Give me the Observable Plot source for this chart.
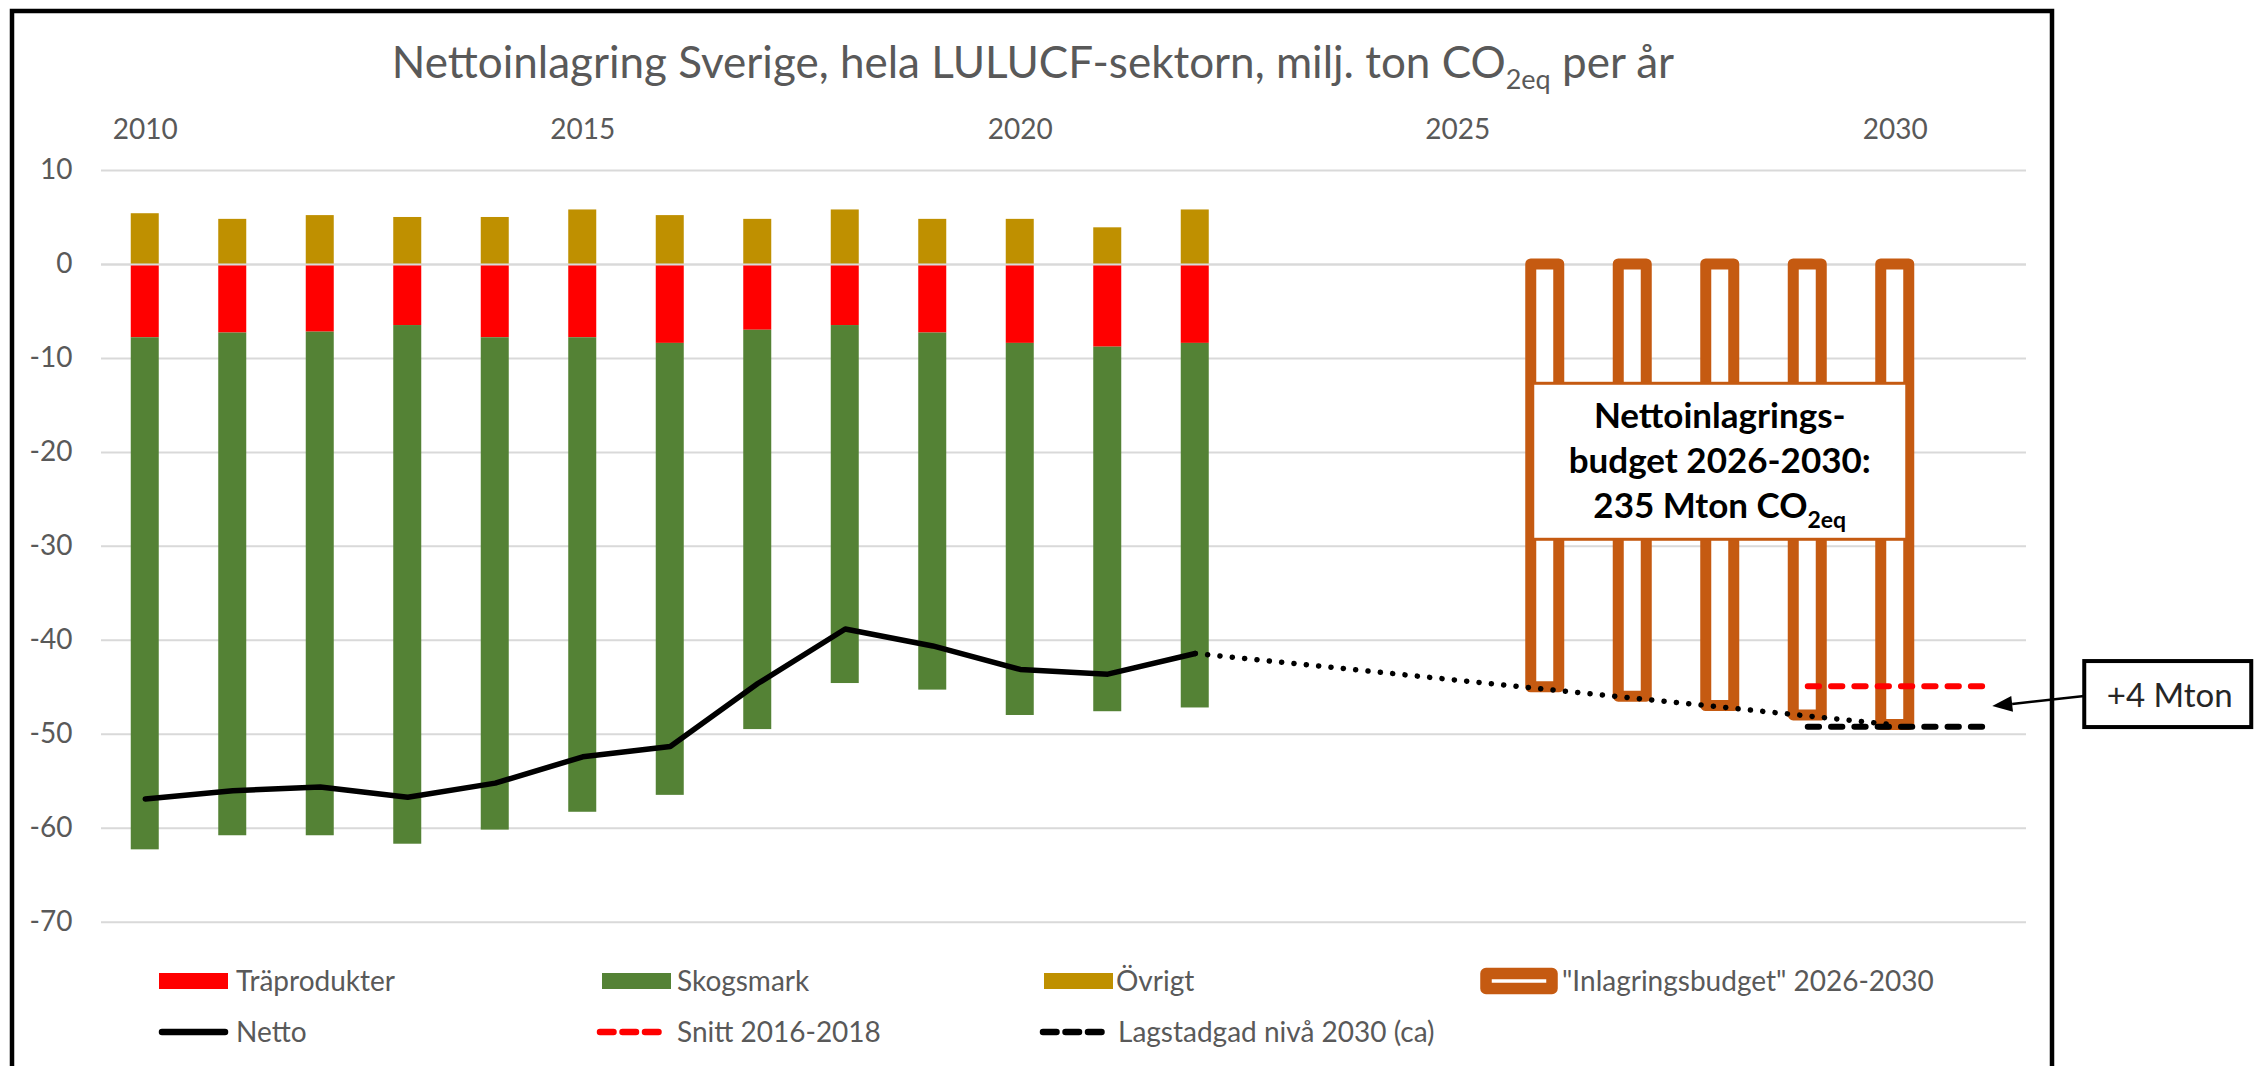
<!DOCTYPE html>
<html>
<head>
<meta charset="utf-8">
<script src="https://cdn.jsdelivr.net/npm/d3@7"></script>
<script src="https://cdn.jsdelivr.net/npm/@observablehq/plot@0.6"></script>
<style>
  html, body { margin: 0; padding: 0; background: #fff; }
  #wrap { position: relative; width: 2255px; height: 1066px; overflow: hidden; }
</style>
</head>
<body>
<div id="wrap"></div>
<script>
// ---------- DATA ----------
const years = [2010, 2011, 2012, 2013, 2014, 2015, 2016, 2017, 2018, 2019, 2020, 2021, 2022];
const traprodukter = [-7.8, -7.3, -7.2, -6.5, -7.8, -7.8, -8.4, -7.0, -6.5, -7.3, -8.4, -8.8, -8.4];
const skogsmark = [-54.5, -53.5, -53.6, -55.2, -52.4, -50.5, -48.1, -42.5, -38.1, -38.0, -39.6, -38.8, -38.8];
const ovrigt = [5.4, 4.8, 5.2, 5.0, 5.0, 5.8, 5.2, 4.8, 5.8, 4.8, 4.8, 3.9, 5.8];
const netto = [-56.9, -56.0, -55.6, -56.7, -55.2, -52.4, -51.3, -44.6, -38.8, -40.6, -43.1, -43.6, -41.4];

const budgetYears = [2026, 2027, 2028, 2029, 2030];
const budget = [-45, -46, -47, -48, -49];

const trendYears = [2022, 2030];
const trendValues = [-41.4, -49.0];

const refYears = [2029, 2031];
const snitt = [-44.9, -44.9];
const lagstadgad = [-49.2, -49.2];

const xTicks = [2010, 2015, 2020, 2025, 2030];
const yTicks = [10, 0, -10, -20, -30, -40, -50, -60, -70];

const seriesNames = ["Träprodukter", "Skogsmark", "Övrigt", "\"Inlagringsbudget\" 2026-2030",
                     "Netto", "Snitt 2016-2018", "Lagstadgad nivå 2030 (ca)"];
const titleMain = "Nettoinlagring Sverige, hela LULUCF-sektorn, milj. ton CO";
const titleSub = "2eq";
const titleEnd = " per år";
const annotLines = ["Nettoinlagrings-", "budget 2026-2030:"];

// ---------- STYLE ----------
const C = {
  tra: "#FF0000", skog: "#548235", ovr: "#BF9000", budget: "#C55A11",
  grid: "#D9D9D9", text: "#595959"
};
const FONT = "Lato, 'Open Sans', sans-serif";

// ---------- ROWS ----------
const traRows = years.map((y, i) => ({year: y, y1: 0, y2: traprodukter[i]}));
const skogRows = years.map((y, i) => ({year: y, y1: traprodukter[i], y2: traprodukter[i] + skogsmark[i]}));
const ovrRows = years.map((y, i) => ({year: y, y1: 0, y2: ovrigt[i]}));
const nettoRows = years.map((y, i) => ({year: y, value: netto[i]}));
const budgetRows = budgetYears.map((y, i) => ({year: y, value: budget[i]}));
const trendRows = trendYears.map((y, i) => ({year: y, value: trendValues[i]}));
const snittRows = refYears.map((y, i) => ({year: y, value: snitt[i]}));
const lagRows = refYears.map((y, i) => ({year: y, value: lagstadgad[i]}));

const barInset = 29.75;
const half = d => d.year - 0.5, half2 = d => d.year + 0.5;

const plot = Plot.plot({
  width: 2255,
  height: 1066,
  marginLeft: 101,
  marginRight: 229,
  marginTop: 170,
  marginBottom: 144.3,
  x: {type: "linear", domain: [2009.5, 2031.5], label: null},
  y: {domain: [-70, 10], label: null},
  style: {fontFamily: FONT, fontSize: "28px", color: C.text, background: "white", overflow: "visible"},
  marks: [
    Plot.gridY(yTicks, {stroke: C.grid, strokeOpacity: 1, strokeWidth: 2}),
    Plot.axisY(yTicks, {tickSize: 0, tickPadding: 29, fontSize: 28, tickFormat: d => String(d), fill: C.text, label: null}),
    Plot.axisX(xTicks, {anchor: "top", tickSize: 0, tickPadding: 32, fontSize: 28, tickFormat: d => String(d), fill: C.text, label: null}),
    Plot.rectY(traRows, {x1: half, x2: half2, y1: "y1", y2: "y2", fill: C.tra, insetLeft: barInset, insetRight: barInset}),
    Plot.rectY(skogRows, {x1: half, x2: half2, y1: "y1", y2: "y2", fill: C.skog, insetLeft: barInset, insetRight: barInset}),
    Plot.rectY(ovrRows, {x1: half, x2: half2, y1: "y1", y2: "y2", fill: C.ovr, insetLeft: barInset, insetRight: barInset}),
    Plot.ruleY([0], {stroke: C.grid, strokeWidth: 2}),
    Plot.rectY(budgetRows, {x1: half, x2: half2, y1: 0, y2: "value", fill: "white", stroke: C.budget,
      strokeWidth: 11, strokeLinejoin: "round", insetLeft: barInset, insetRight: barInset}),
    Plot.line(nettoRows, {x: "year", y: "value", stroke: "black", strokeWidth: 5.5}),
    Plot.line(trendRows, {x: "year", y: "value", stroke: "black", strokeWidth: 5.5,
      strokeDasharray: "0.1 12.3", strokeLinecap: "round"}),
    Plot.line(snittRows, {x: "year", y: "value", stroke: C.tra, strokeWidth: 6,
      strokeDasharray: "11.3 12", strokeLinecap: "round"}),
    Plot.line(lagRows, {x: "year", y: "value", stroke: "black", strokeWidth: 6,
      strokeDasharray: "11.3 12", strokeLinecap: "round"})
  ]
});

document.getElementById("wrap").appendChild(plot);

// ---------- ANNOTATIONS / TITLE / LEGEND ----------
const X = plot.scale("x"), Y = plot.scale("y");
const sx = v => X.apply(v), sy = v => Y.apply(v);
const svg = d3.select(plot);

// Frame
svg.append("rect")
  .attr("x", 12).attr("y", 11).attr("width", 2040).attr("height", 1120)
  .attr("fill", "none").attr("stroke", "black").attr("stroke-width", 4.5);

// Title
const t = svg.append("text")
  .attr("x", 1033).attr("y", 78)
  .attr("text-anchor", "middle")
  .attr("font-family", FONT).attr("font-size", 44).attr("fill", C.text);
t.append("tspan").text(titleMain);
t.append("tspan").attr("dy", 11).attr("font-size", 27).text(titleSub);
t.append("tspan").attr("dy", -11).text(titleEnd);

// Budget annotation box
const totalBudget = -d3.sum(budget);
const acx = sx(d3.mean(budgetYears)), acy = sy(-21);
const bw = 374, bh = 156;
const ag = svg.append("g");
ag.append("rect")
  .attr("x", acx - bw / 2).attr("y", acy - bh / 2).attr("width", bw).attr("height", bh)
  .attr("fill", "white").attr("stroke", C.budget).attr("stroke-width", 3);
const atx = ag.append("text")
  .attr("text-anchor", "middle").attr("font-family", FONT).attr("font-weight", "bold")
  .attr("font-size", 35).attr("fill", "black");
atx.append("tspan").attr("x", acx).attr("y", acy - bh / 2 + 45).text(annotLines[0]);
atx.append("tspan").attr("x", acx).attr("y", acy - bh / 2 + 90).text(annotLines[1]);
const l3 = ag.append("text")
  .attr("x", acx).attr("y", acy - bh / 2 + 135)
  .attr("text-anchor", "middle").attr("font-family", FONT).attr("font-weight", "bold")
  .attr("font-size", 35).attr("fill", "black");
l3.append("tspan").text(totalBudget + " Mton CO");
l3.append("tspan").attr("dy", 10).attr("font-size", 23).text("2eq");

// +4 Mton arrow + box
const diff = Math.round(snitt[1] - lagstadgad[1]);
const tipX = sx(refYears[1]) + 10, tipY = sy((snitt[1] + lagstadgad[1]) / 2);
const boxL = tipX + 92, boxT = tipY - 45, boxW = 167, boxH = 66;
const tailX = boxL, tailY = tipY - 10;
const ang = Math.atan2(tailY - tipY, tailX - tipX);
const ah = 20, aw = 8;
const bx = tipX + ah * Math.cos(ang), by = tipY + ah * Math.sin(ang);
svg.append("line")
  .attr("x1", tailX).attr("y1", tailY).attr("x2", bx).attr("y2", by)
  .attr("stroke", "black").attr("stroke-width", 2.5);
svg.append("path")
  .attr("d", `M${tipX},${tipY} L${bx - aw * Math.sin(ang)},${by + aw * Math.cos(ang)} L${bx + aw * Math.sin(ang)},${by - aw * Math.cos(ang)} Z`)
  .attr("fill", "black");
svg.append("rect")
  .attr("x", boxL).attr("y", boxT).attr("width", boxW).attr("height", boxH)
  .attr("fill", "white").attr("stroke", "black").attr("stroke-width", 4);
svg.append("text")
  .attr("x", boxL + boxW / 2 + 2).attr("y", tipY + 1)
  .attr("text-anchor", "middle").attr("font-family", FONT).attr("font-size", 33).attr("fill", "#262626")
  .text("+" + diff + " Mton");

// Legend
const lg = svg.append("g").attr("font-family", FONT).attr("font-size", 28).attr("fill", C.text)
  .attr("text-anchor", "start");
const row1 = 981, row2 = 1032;
const sw = (x, color) => lg.append("rect").attr("x", x).attr("y", row1 - 8).attr("width", 69).attr("height", 16).attr("fill", color);
const lab = (x, y, s) => lg.append("text").attr("x", x).attr("y", y + 10).attr("text-anchor", "start").text(s);
sw(159, C.tra); lab(236, row1, seriesNames[0]);
sw(602, C.skog); lab(677, row1, seriesNames[1]);
sw(1044, C.ovr); lab(1116, row1, seriesNames[2]);
lg.append("rect").attr("x", 1486).attr("y", row1 - 7.5).attr("width", 66).attr("height", 15)
  .attr("fill", "white").attr("stroke", C.budget).attr("stroke-width", 11.5).attr("stroke-linejoin", "round");
lab(1562, row1, seriesNames[3]);
lg.append("line").attr("x1", 162).attr("x2", 225).attr("y1", row2).attr("y2", row2)
  .attr("stroke", "black").attr("stroke-width", 6.5).attr("stroke-linecap", "round");
lab(236, row2, seriesNames[4]);
lg.append("line").attr("x1", 600).attr("x2", 660).attr("y1", row2).attr("y2", row2)
  .attr("stroke", C.tra).attr("stroke-width", 6.5).attr("stroke-linecap", "round").attr("stroke-dasharray", "13.5 9");
lab(677, row2, seriesNames[5]);
lg.append("line").attr("x1", 1043).attr("x2", 1103).attr("y1", row2).attr("y2", row2)
  .attr("stroke", "black").attr("stroke-width", 6.5).attr("stroke-linecap", "round").attr("stroke-dasharray", "13.5 9");
lab(1118, row2, seriesNames[6]);
</script>
</body>
</html>
